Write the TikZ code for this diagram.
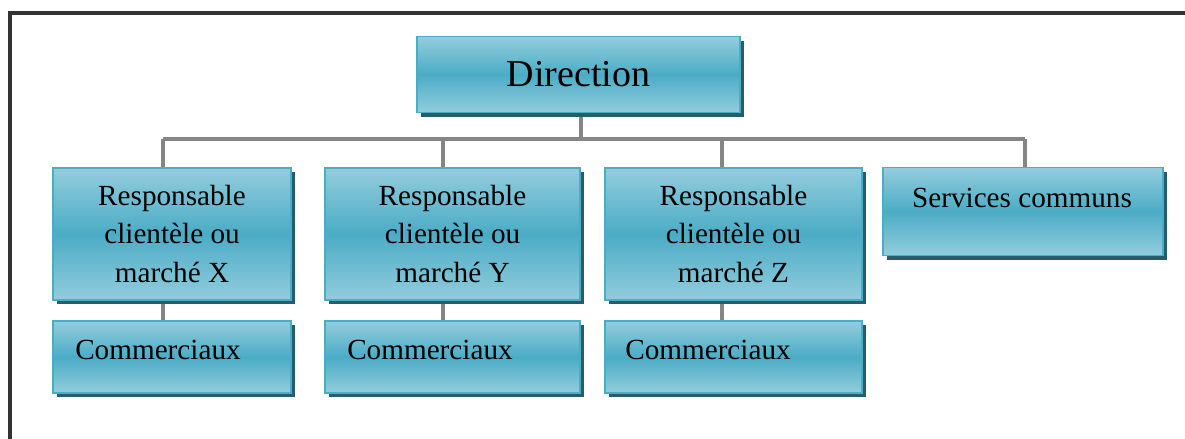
\documentclass[tikz,border=0pt]{standalone}
\usepackage{fontspec}
\setmainfont{Liberation Serif}
\usetikzlibrary{shadows,backgrounds}
\definecolor{boxlight}{HTML}{93CDDD}
\definecolor{boxmid}{HTML}{4BACC6}
\definecolor{boxborder}{HTML}{4BACC6}
\definecolor{shadowc}{HTML}{275C6B}
\definecolor{linec}{HTML}{858585}
\definecolor{framec}{HTML}{333333}
\tikzset{
  orgbox/.style={draw=boxborder, line width=1.2pt, rectangle, inner sep=0pt,
    top color=boxlight, bottom color=boxlight, middle color=boxmid,
    drop shadow={shadow xshift=3pt, shadow yshift=-3pt, fill=shadowc, opacity=1},
    font=\fontsize{21.9}{29}\selectfont, align=center},
  conn/.style={draw=linec, line width=2.4pt},
  lbl/.style={inner sep=0pt, font=\fontsize{21.9}{29}\selectfont, align=center}
}
\begin{document}
\begin{tikzpicture}[x=0.75pt, y=-0.75pt]
\useasboundingbox (0,0) rectangle (1185,439);
\draw[framec, line width=2.4pt] (10,445) -- (10,13) -- (1195,13);

% boxes
\node[orgbox, minimum width=242pt, minimum height=57pt, font=\fontsize{28.5}{34}\selectfont] (dir) at (578.5,74.5) {Direction};
\node[orgbox, minimum width=178.5pt, minimum height=99pt] (rx) at (172,234) {Responsable\\clientèle ou\\marché X};
\node[orgbox, minimum width=191pt, minimum height=99pt] (ry) at (452.5,234) {Responsable\\clientèle ou\\marché Y};
\node[orgbox, minimum width=193pt, minimum height=99pt] (rz) at (733.5,234) {Responsable\\clientèle ou\\marché Z};
\node[orgbox, minimum width=210pt, minimum height=66pt] (svc) at (1023,211.5) {};
\node[lbl] (svct) at (1022,198) {Services communs};
\node[orgbox, minimum width=178.5pt, minimum height=54pt] (cx) at (172,357) {};
\node[orgbox, minimum width=191pt, minimum height=54pt] (cy) at (452.5,357) {};
\node[orgbox, minimum width=193pt, minimum height=54pt] (cz) at (733.5,357) {};
\node[lbl, anchor=west] (cxt) at (75,350) {Commerciaux};
\node[lbl, anchor=west] (cyt) at (347,350) {Commerciaux};
\node[lbl, anchor=west] (czt) at (625,350) {Commerciaux};

% connectors
\begin{scope}[on background layer]
\coordinate (bus) at (581,139);
\coordinate (bx) at (163,139);
\coordinate (by) at (443,139);
\coordinate (bz) at (722,139);
\coordinate (bs) at (1025,139);
\draw[conn] (dir.south -| bus) -- (bus);
\draw[conn] (bx) -- (bs);
\draw[conn] (bx) -- (bx |- rx.north);
\draw[conn] (by) -- (by |- ry.north);
\draw[conn] (bz) -- (bz |- rz.north);
\draw[conn] (bs) -- (bs |- svc.north);
\draw[conn] (bx |- rx.south) -- (bx |- cx.north);
\draw[conn] (by |- ry.south) -- (by |- cy.north);
\draw[conn] (bz |- rz.south) -- (bz |- cz.north);
\end{scope}
\end{tikzpicture}
\end{document}
